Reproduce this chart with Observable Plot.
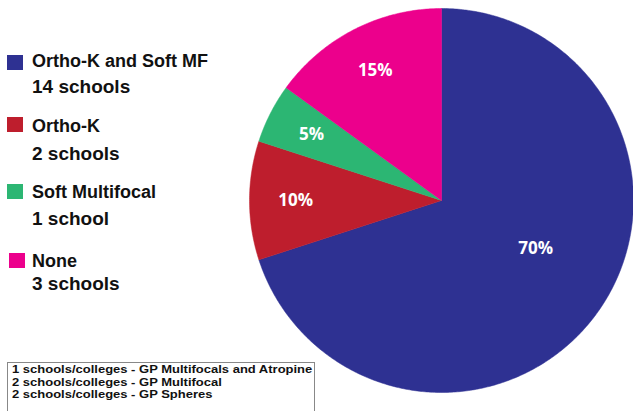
<!DOCTYPE html>
<html>
<head>
<meta charset="utf-8">
<script src="https://cdn.jsdelivr.net/npm/d3@7"></script>
<script src="https://cdn.jsdelivr.net/npm/@observablehq/plot@0.6"></script>
<style>
  html, body { margin: 0; padding: 0; background: #fff; }
  #wrap { position: relative; width: 633px; height: 411px; overflow: hidden; }
  #wrap svg { position: absolute; left: 0; top: 0; }
</style>
</head>
<body>
<div id="wrap"></div>
<script>
// ---- data ----
const categories = ["Ortho-K and Soft MF", "Ortho-K", "Soft Multifocal", "None"];
const schoolCounts = ["14 schools", "2 schools", "1 school", "3 schools"];
const shares = [70, 10, 5, 15];
const notes = [
  "1 schools/colleges - GP Multifocals and Atropine",
  "2 schools/colleges - GP Multifocal",
  "2 schools/colleges - GP Spheres"
];

// ---- styles ----
const palette = ["#2e3192", "#be1e2d", "#2cb673", "#ec008c"];

const pie = d3.pie().sort(null).value(d => d.share)(
  categories.map((c, i) => ({category: c, share: shares[i]}))
);

// polygon points for each slice (angle clockwise from top, unit circle)
const slicePts = [];
pie.forEach(p => {
  const n = Math.max(2, Math.ceil((p.endAngle - p.startAngle) / 0.01));
  slicePts.push({category: p.data.category, x: 0, y: 0});
  for (let k = 0; k <= n; k++) {
    const a = p.startAngle + (p.endAngle - p.startAngle) * k / n;
    slicePts.push({category: p.data.category, x: Math.sin(a), y: Math.cos(a)});
  }
  slicePts.push({category: p.data.category, x: 0, y: 0});
});

const labels = pie.map(p => {
  const big = p.data.share > 50;
  const a = (p.startAngle + p.endAngle) / 2 - (big ? 0.16 : 0);
  const r = big ? 0.55 : 0.76;
  return {x: r * Math.sin(a), y: r * Math.cos(a), text: p.data.share + "%"};
});

const chart = Plot.plot({
  width: 633,
  height: 411,
  margin: 0,
  x: {domain: [-1, 1], range: [249, 633], axis: null},
  y: {domain: [-1, 1], range: [392, 8], axis: null},
  color: {domain: categories, range: palette},
  marks: [
    Plot.line(slicePts, {x: "x", y: "y", z: "category", fill: "category", stroke: "category", strokeWidth: 0.5, curve: "linear"}),
    Plot.text(labels, {x: "x", y: "y", text: "text", fill: "white", fontSize: 17, fontWeight: "bold",
      fontFamily: "Open Sans", textAnchor: "middle", lineAnchor: "middle"})
  ]
});
document.getElementById("wrap").appendChild(chart);

// ---- legend and notes (overlay) ----
const ov = d3.select("#wrap").append("svg").attr("width", 633).attr("height", 411)
  .style("font-family", "'Liberation Sans', Arial, sans-serif");

const legendTop = [55, 117, 184, 253];
const legendLine1 = [67, 132, 198, 267];
const legendLine2 = [93, 160, 225, 290];
categories.forEach((c, i) => {
  ov.append("rect").attr("x", i === 3 ? 9 : 7).attr("y", legendTop[i]).attr("width", 16).attr("height", 15)
    .attr("fill", palette[i]);
  ov.append("text").attr("x", 32).attr("y", legendLine1[i]).attr("font-size", 18).attr("font-weight", "bold")
    .attr("fill", "#111").text(c);
  ov.append("text").attr("x", 32).attr("y", legendLine2[i]).attr("font-size", 19).attr("font-weight", "bold")
    .attr("fill", "#111").text(schoolCounts[i]);
});

ov.append("rect").attr("x", 7.5).attr("y", 362.5).attr("width", 307).attr("height", 60)
  .attr("fill", "white").attr("stroke", "#888").attr("stroke-width", 1);
const ng = ov.append("g").attr("transform", "translate(12,0) scale(1.13,1)");
notes.forEach((t, i) => {
  ng.append("text").attr("x", 0).attr("y", 373.5 + i * 12.5).attr("font-size", 11.5).attr("font-weight", "bold")
    .attr("fill", "#111").text(t);
});
</script>
</body>
</html>
